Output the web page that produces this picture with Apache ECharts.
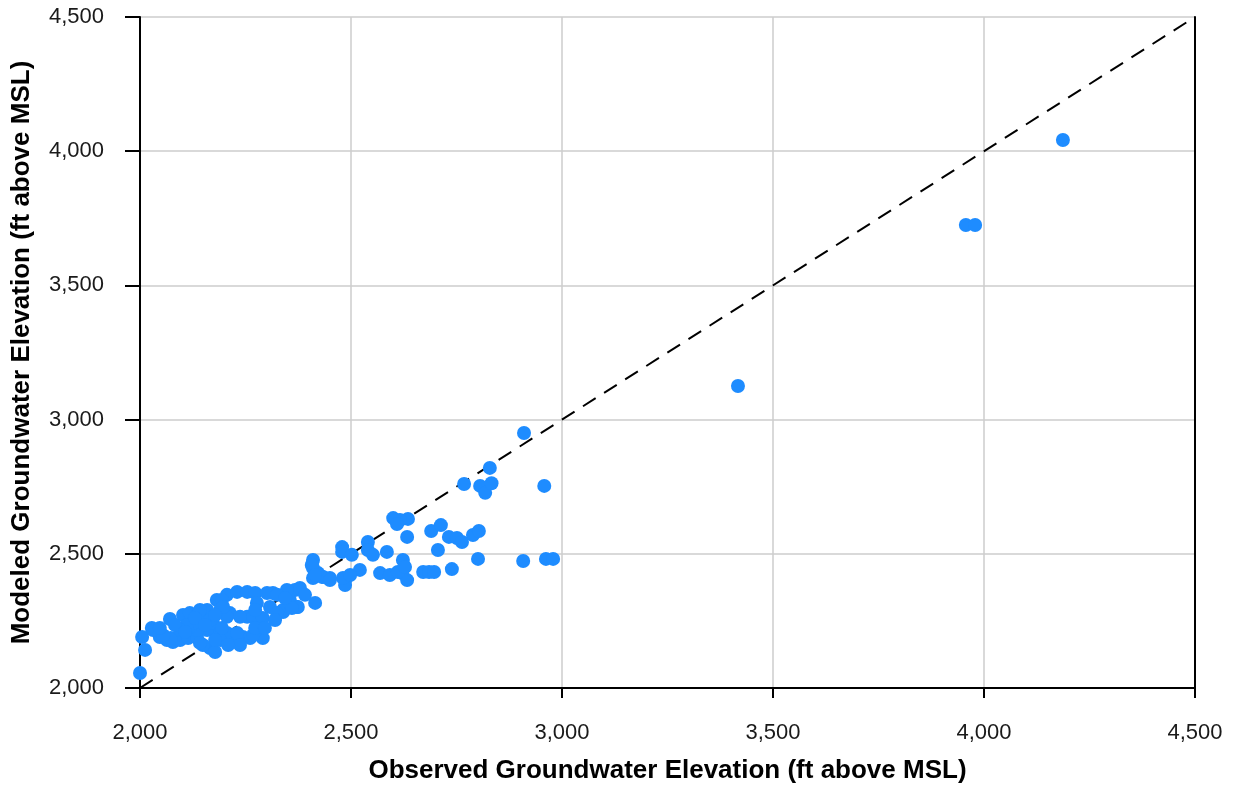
<!DOCTYPE html>
<html>
<head>
<meta charset="utf-8">
<script src="https://cdn.jsdelivr.net/npm/echarts@6/dist/echarts.min.js"></script>
<style>
html,body{margin:0;padding:0;background:#fff;}
#chart{width:1233px;height:793px;}
</style>
</head>
<body>
<div id="chart"></div>
<script>
var xTitle = 'Observed Groundwater Elevation (ft above MSL)';
var yTitle = 'Modeled Groundwater Elevation (ft above MSL)';
var axisMin = 2000, axisMax = 4500, axisStep = 500;

var observed = [
  4187, 3957, 3979, 3417, 2910, 2829, 2768, 2806, 2818, 2833, 2958,
  2635, 2616, 2600, 2609, 2633, 2690, 2713, 2732, 2751, 2763, 2789, 2803, 2706,
  2623, 2621, 2633, 2671, 2685, 2697, 2739, 2801, 2908, 2962, 2979,
  2540, 2540, 2552, 2479, 2479, 2502, 2585, 2521, 2569, 2592, 2611, 2628,
  2410, 2410, 2422, 2410, 2434, 2450, 2486, 2486, 2415, 2348, 2367, 2379, 2355, 2374, 2339,
  2407, 2431,
  2000, 2012, 2005, 2028, 2071, 2102, 2118, 2137, 2159, 2047, 2064, 2078, 2095, 2114, 2135,
  2166, 2149, 2182, 2206, 2230, 2254, 2273, 2291, 2261, 2244, 2230, 2213, 2315, 2348,
  2308, 2339, 2372, 2284, 2254, 2213, 2190, 2031, 2194, 2301, 2206, 2237, 2268,
  2182, 2159, 2135, 2118, 2206, 2173, 2149, 2126, 2111, 2197, 2415, 2450, 2481, 2498,
  2325, 2360, 2325, 2291, 2277, 2268, 2142, 2073, 2055, 2230,
  2095, 2083, 2273, 2142, 2166, 2190, 2237, 2178,
  2107, 2130, 2154, 2178, 2194, 2273, 2296, 2320, 2178, 2209, 2344, 2391, 2047
];
var modeled = [
  4042, 3725, 3725, 3125, 2950, 2820, 2760, 2753, 2727, 2763, 2753,
  2630, 2626, 2633, 2611, 2563, 2585, 2607, 2563, 2559, 2544, 2570, 2585, 2514,
  2477, 2428, 2402, 2432, 2432, 2432, 2443, 2481, 2473, 2481, 2481,
  2544, 2514, 2496, 2525, 2507, 2496, 2507, 2440, 2428, 2421, 2432, 2451,
  2477, 2447, 2428, 2410, 2414, 2410, 2402, 2384, 2317, 2358, 2365, 2373, 2328, 2302, 2283,
  2458, 2414,
  2056, 2142, 2190, 2224, 2257, 2272, 2279, 2276, 2291, 2190, 2179, 2171, 2179, 2186, 2190,
  2149, 2160, 2328, 2347, 2358, 2358, 2354, 2186, 2186, 2190, 2186, 2186, 2354, 2365,
  2302, 2291, 2302, 2253, 2265, 2279, 2291, 2216, 2328, 2354, 2265, 2265, 2265,
  2205, 2216, 2216, 2227, 2205, 2242, 2246, 2242, 2235, 2302, 2421, 2402, 2410, 2421,
  2347, 2298, 2279, 2261, 2317, 2197, 2168, 2186, 2197, 2205,
  2216, 2235, 2224, 2291, 2253, 2179, 2160, 2134,
  2209, 2261, 2235, 2272, 2224, 2291, 2224, 2253, 2179, 2160, 2335, 2347, 2224
];
var refLineX = [2000, 4500];
var refLineY = [2000, 4500];

var points = observed.map(function (x, i) { return [x, modeled[i]]; });
var refLine = refLineX.map(function (x, i) { return [x, refLineY[i]]; });

function fmt(v) { return v.toLocaleString('en-US'); }

var chart = echarts.init(document.getElementById('chart'), null, {renderer: 'canvas'});
var font = '"Liberation Sans", Arial, sans-serif';
chart.setOption({
  animation: false,
  backgroundColor: '#ffffff',
  grid: {left: 140, right: 38, top: 17, bottom: 105, containLabel: false},
  xAxis: {
    type: 'value', min: axisMin, max: axisMax, interval: axisStep,
    name: xTitle, nameLocation: 'middle', nameGap: 70,
    nameTextStyle: {fontFamily: font, fontSize: 26, fontWeight: 'bold', color: '#000'},
    axisLine: {show: true, onZero: false, lineStyle: {color: '#000', width: 2}},
    axisTick: {show: true, inside: false, length: 10, lineStyle: {color: '#000', width: 2}},
    axisLabel: {fontFamily: font, fontSize: 22, color: '#1a1a1a', margin: 34, formatter: fmt},
    splitLine: {show: true, lineStyle: {color: '#cccccc', width: 1.5}}
  },
  yAxis: [{
    type: 'value', min: axisMin, max: axisMax, interval: axisStep,
    name: yTitle, nameLocation: 'middle', nameGap: 105,
    nameTextStyle: {fontFamily: font, fontSize: 26, fontWeight: 'bold', color: '#000'},
    axisLine: {show: true, onZero: false, lineStyle: {color: '#000', width: 2}},
    axisTick: {show: true, inside: false, length: 15, lineStyle: {color: '#000', width: 2}},
    axisLabel: {fontFamily: font, fontSize: 22, color: '#1a1a1a', margin: 36, formatter: fmt},
    splitLine: {show: true, lineStyle: {color: '#cccccc', width: 1.5}}
  }, {
    type: 'value', min: axisMin, max: axisMax, interval: axisStep, position: 'right',
    axisLine: {show: true, lineStyle: {color: '#000', width: 2}},
    axisTick: {show: false}, axisLabel: {show: false}, splitLine: {show: false}
  }],
  series: [{
    type: 'line', data: refLine, symbol: 'none', silent: true, z: 3,
    lineStyle: {color: '#000', width: 2, type: [15, 10]}
  }, {
    type: 'scatter', data: points, symbol: 'circle', symbolSize: 14, z: 4,
    itemStyle: {color: '#1e8cff', opacity: 1}
  }]
});
</script>
</body>
</html>
